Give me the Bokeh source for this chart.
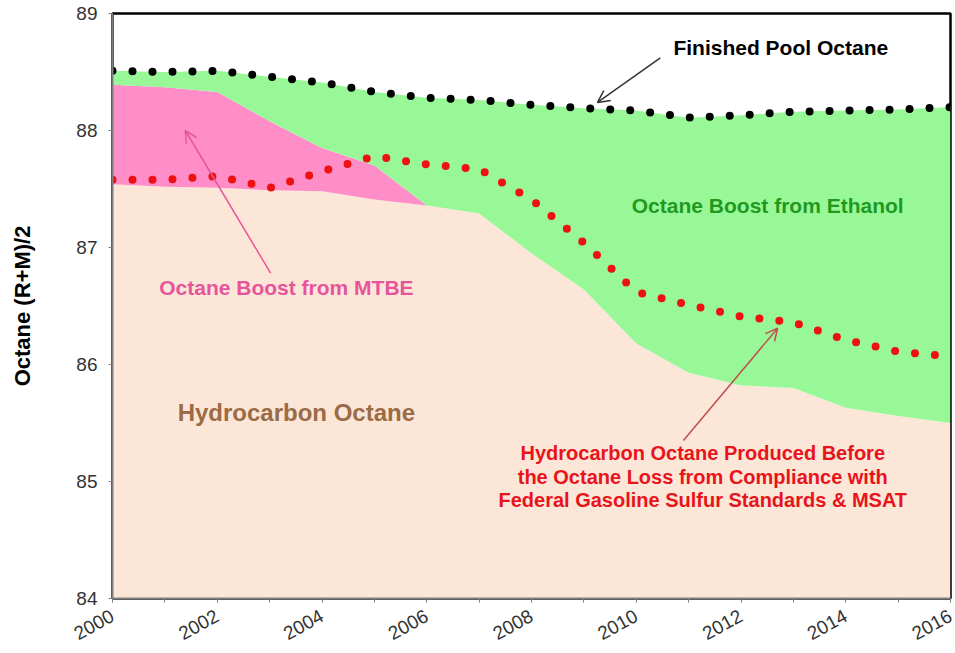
from bokeh.plotting import figure
from bokeh.models import Range1d, FixedTicker, Arrow, OpenHead, Label
from bokeh.embed import file_html
from bokeh.resources import INLINE

# ---- data ----
years = [2000, 2001, 2002, 2003, 2004, 2005, 2006, 2007, 2008,
         2009, 2010, 2011, 2012, 2013, 2014, 2015, 2016]

# Finished pool octane (black dotted line, top of the green area)
pool_octane = [88.51, 88.50, 88.51, 88.46, 88.41, 88.33, 88.28, 88.26, 88.22,
               88.19, 88.17, 88.11, 88.13, 88.16, 88.17, 88.18, 88.20]

# Top of the MTBE boost (pink area)
mtbe_top = [88.39, 88.37, 88.33, 88.08, 87.85, 87.70, 87.36, 87.29, 86.95,
            86.64, 86.18, 85.93, 85.82, 85.80, 85.63, 85.56, 85.50]

# Hydrocarbon octane (peach area)
hydrocarbon_octane = [87.54, 87.52, 87.51, 87.49, 87.48, 87.41, 87.36, 87.29, 86.95,
                      86.64, 86.18, 85.93, 85.82, 85.80, 85.63, 85.56, 85.50]

# Hydrocarbon octane produced before the octane loss (red dotted line)
hc_before_loss = [87.58, 87.58, 87.61, 87.51, 87.65, 87.78, 87.71, 87.67, 87.41,
                  87.04, 86.62, 86.51, 86.41, 86.36, 86.21, 86.11, 86.07]

y_floor = [84.0] * len(years)

x_ticks = [2000, 2002, 2004, 2006, 2008, 2010, 2012, 2014, 2016]
y_ticks = [84, 85, 86, 87, 88, 89]

FONT = "Liberation Sans"

p = figure(width=955, height=653, output_backend="svg", toolbar_location=None,
           x_range=Range1d(2000, 2016), y_range=Range1d(84, 89),
           min_border_left=112, min_border_right=5, min_border_top=13,
           min_border_bottom=55)

p.xgrid.visible = False
p.ygrid.visible = False
p.background_fill_color = "white"
p.outline_line_color = "black"
p.outline_line_width = 2.5

# areas
p.varea(x=years, y1=y_floor, y2=hydrocarbon_octane, fill_color="#fce6d8")
p.varea(x=years, y1=hydrocarbon_octane, y2=mtbe_top, fill_color="#ff8ec8")
p.varea(x=years, y1=mtbe_top, y2=pool_octane, fill_color="#98f898")

# dotted lines
p.line(years, hc_before_loss, line_color="#ee1111", line_width=8,
       line_dash="0 20", line_cap="round")
p.line(years, pool_octane, line_color="black", line_width=8,
       line_dash="0 20", line_cap="round")

# axes
p.xaxis.ticker = FixedTicker(ticks=x_ticks, minor_ticks=years)
p.yaxis.ticker = FixedTicker(ticks=y_ticks, minor_ticks=[])
for ax in (p.xaxis[0], p.yaxis[0]):
    ax.axis_line_color = "#7f7f7f"
    ax.axis_line_width = 2
    ax.major_tick_line_color = "#7f7f7f"
    ax.minor_tick_line_color = "#7f7f7f"
    ax.major_tick_in = 0
    ax.major_tick_out = 4
    ax.minor_tick_in = 0
    ax.minor_tick_out = 4
    ax.major_label_text_font = FONT
    ax.major_label_text_color = "#333333"
    ax.major_label_text_font_size = "19px"

p.xaxis.major_label_orientation = 0.5
p.xaxis.major_label_standoff = 12
p.yaxis.major_label_standoff = 11
p.yaxis.axis_label = "Octane (R+M)/2"
p.yaxis.axis_label_text_font = FONT
p.yaxis.axis_label_text_font_style = "bold"
p.yaxis.axis_label_text_font_size = "22px"
p.yaxis.axis_label_text_color = "black"
p.yaxis.axis_label_standoff = 38

# annotations
def add_label(x, y, text, color, size, align="center"):
    p.add_layout(Label(x=x, y=y, text=text, text_color=color, text_font=FONT,
                       text_font_style="bold", text_font_size=size,
                       text_align=align, text_baseline="middle"))

add_label(2010.71, 88.71, "Finished Pool Octane", "black", "21px", "left")
add_label(2012.51, 87.36, "Octane Boost from Ethanol", "#1f9a1f", "21px")
add_label(2003.32, 86.66, "Octane Boost from MTBE", "#e6559b", "21px")
add_label(2003.51, 85.59, "Hydrocarbon Octane", "#9b6b45", "24px")
add_label(2011.27, 85.24, "Hydrocarbon Octane Produced Before", "#e8141b", "20px")
add_label(2011.27, 85.035, "the Octane Loss from Compliance with", "#e8141b", "20px")
add_label(2011.27, 84.84, "Federal Gasoline Sulfur Standards & MSAT", "#e8141b", "20px")

def add_arrow(x0, y0, x1, y1, color):
    p.add_layout(Arrow(end=OpenHead(size=12, line_color=color, line_width=1.5),
                       x_start=x0, y_start=y0, x_end=x1, y_end=y1,
                       line_color=color, line_width=1.5))

add_arrow(2010.46, 88.62, 2009.26, 88.24, "#333333")
add_arrow(2003.02, 86.78, 2001.39, 88.00, "#e6559b")
add_arrow(2010.90, 85.35, 2012.70, 86.31, "#c0504d")

open("out.html", "w").write(file_html(p, INLINE))
